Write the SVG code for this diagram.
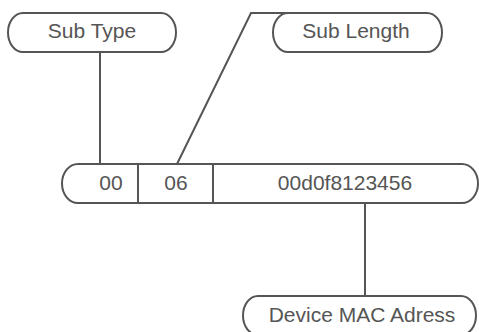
<svg xmlns="http://www.w3.org/2000/svg" width="479" height="332" viewBox="0 0 479 332">
<style>
.box{fill:#fff;stroke:#555;stroke-width:2}
.ln{fill:none;stroke:#555;stroke-width:2}
text{font-family:"Liberation Sans",Arial,sans-serif;font-size:21px;fill:#555;text-anchor:middle}
</style>
<rect width="479" height="332" fill="#fff"/>
<g id="connectors">
<line class="ln" x1="100" y1="52" x2="100" y2="164"/>
<polyline class="ln" points="177,164 251,13 290,13"/>
<line class="ln" x1="365" y1="203" x2="365" y2="296"/>
</g>
<g id="sub-type">
<path class="box" d="M23,13 H161 A15,19.5 0 0 1 161,52 H23 A15,19.5 0 0 1 23,13 Z"/>
<text x="92" y="38">Sub Type</text>
</g>
<g id="sub-length">
<path class="box" d="M288,13 H427 A15,19.5 0 0 1 427,52 H288 A15,19.5 0 0 1 288,13 Z"/>
<text x="356" y="38">Sub Length</text>
</g>
<g id="frame">
<path class="box" d="M78,164 H462 A16,19.5 0 0 1 462,203 H78 A16,19.5 0 0 1 78,164 Z"/>
<line class="ln" x1="138" y1="164" x2="138" y2="203"/>
<line class="ln" x1="213" y1="164" x2="213" y2="203"/>
<text x="111" y="190">00</text>
<text x="176" y="190">06</text>
<text x="345" y="190">00d0f8123456</text>
</g>
<g id="device-mac">
<path class="box" d="M258,296 H461 A15,19.5 0 0 1 461,335 H258 A15,19.5 0 0 1 258,296 Z"/>
<text x="362" y="322">Device MAC Adress</text>
</g>
</svg>
